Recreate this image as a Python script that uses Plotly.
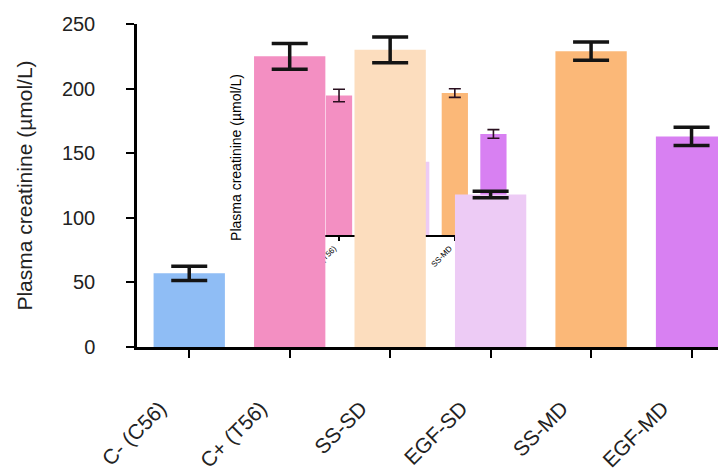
import plotly.graph_objects as go

categories = ["C- (C56)", "C+ (T56)", "SS-SD", "EGF-SD", "SS-MD", "EGF-MD"]
values = [57, 225, 230, 118, 229, 163]
errors = [5.5, 10, 10, 2.5, 7, 7]
colors = ["#8FBDF5", "#F38FC2", "#FCDDBE", "#EDCBF5", "#FBB878", "#D880F2"]
y_ticks = [0, 50, 100, 150, 200, 250]
y_title = "Plasma creatinine (µmol/L)"

FONT = "Liberation Sans, Arial, sans-serif"

fig = go.Figure()

# small embedded copy of the chart (drawn underneath)
fig.add_trace(go.Bar(
    x=categories, y=values, marker=dict(color=colors, line=dict(width=0)),
    width=0.68,
    error_y=dict(type="data", array=errors, visible=True, color="#2a1020",
                 thickness=1.6, width=6),
    xaxis="x", yaxis="y", showlegend=False,
))

# main chart
fig.add_trace(go.Bar(
    x=categories, y=values, marker=dict(color=colors, line=dict(width=0)),
    width=0.71,
    error_y=dict(type="data", array=errors, visible=True, color="#141414",
                 thickness=3.5, width=18),
    xaxis="x2", yaxis="y2", showlegend=False,
))

fig.update_layout(
    width=718, height=468,
    margin=dict(l=129, r=0, t=16, b=129, autoexpand=False),
    paper_bgcolor="white", plot_bgcolor="rgba(0,0,0,0)",
    font=dict(family=FONT, color="#222"),
    xaxis=dict(
        domain=[0.2447, 0.6379], anchor="y", range=[-0.5, 5.5], automargin=False,
        showline=True, linecolor="black", linewidth=1.5,
        ticks="outside", ticklen=4, tickwidth=1.5, tickcolor="black",
        tickangle=-45, tickfont=dict(size=8, color="black"),
        ticklabelshift=-5,
        showgrid=False, zeroline=False,
    ),
    yaxis=dict(
        domain=[0.3467, 0.8266], anchor="x", range=[0, 250], automargin=False,
        showline=True, linecolor="black", linewidth=1.5,
        showticklabels=False, ticks="", showgrid=False, zeroline=False,
        title=dict(text=y_title, font=dict(size=14, color="black"), standoff=34),
    ),
    xaxis2=dict(
        domain=[0, 1], anchor="y2", range=[-0.52, 5.343], automargin=False,
        showline=True, linecolor="black", linewidth=3,
        ticks="outside", ticklen=8, tickwidth=2, tickcolor="black",
        tickangle=-45, tickfont=dict(size=21, color="#222", family=FONT),
        ticklabelstandoff=30, ticklabelshift=-29,
        showgrid=False, zeroline=False,
    ),
    yaxis2=dict(
        domain=[0, 1], anchor="x2", range=[0, 250], automargin=False,
        tickvals=y_ticks,
        showline=True, linecolor="black", linewidth=2.5,
        ticks="outside", ticklen=8, tickwidth=2, tickcolor="black",
        tickfont=dict(size=20, color="#222", family=FONT),
        ticklabelstandoff=27,
        showgrid=False, zeroline=False,
        title=dict(text=y_title, font=dict(size=21, color="#222"), standoff=24),
    ),
)

fig.write_html("out.html")
